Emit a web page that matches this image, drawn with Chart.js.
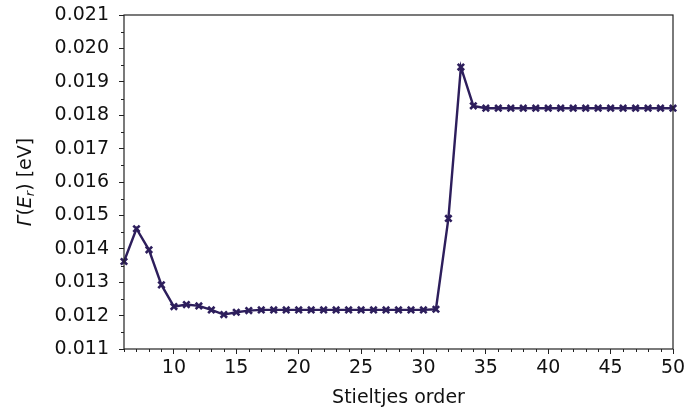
<!DOCTYPE html>
<html>
<head>
<meta charset="utf-8">
<script src="https://cdn.jsdelivr.net/npm/chart.js@4/dist/chart.umd.min.js"></script>
<style>
  body { margin: 0; background: #fff; }
  #wrap { width: 687px; height: 412px; }
</style>
</head>
<body>
<div id="wrap"><canvas id="myChart" width="687" height="412"></canvas></div>
<script>
const stieltjesOrder = [6, 7, 8, 9, 10, 11, 12, 13, 14, 15, 16, 17, 18, 19, 20, 21, 22, 23, 24, 25, 26, 27, 28,
  29, 30, 31, 32, 33, 34, 35, 36, 37, 38, 39, 40, 41, 42, 43, 44, 45, 46, 47, 48, 49, 50];
const gammaWidth = [0.01362, 0.01460, 0.01397, 0.01292, 0.01227, 0.01233, 0.01229, 0.01217, 0.01203, 0.01210,
  0.01215, 0.01217, 0.01217, 0.01217, 0.01217, 0.01217, 0.01217, 0.01217, 0.01217, 0.01217, 0.01217, 0.01217,
  0.01217, 0.01217, 0.01217, 0.01219, 0.01491, 0.01944, 0.01828, 0.01821, 0.01821, 0.01821, 0.01821, 0.01821,
  0.01821, 0.01821, 0.01821, 0.01821, 0.01821, 0.01821, 0.01821, 0.01821, 0.01821, 0.01821, 0.01821];
const xTicks = [10, 15, 20, 25, 30, 35, 40, 45, 50];
const yTicks = [0.011, 0.012, 0.013, 0.014, 0.015, 0.016, 0.017, 0.018, 0.019, 0.020, 0.021];

const FONT = "'DejaVu Sans', sans-serif";
const lineColor = '#2d1e5c';

// box around plot, minor ticks, y axis label with italics
const decor = {
  id: 'decor',
  afterDraw(chart) {
    const c = chart.ctx, a = chart.chartArea;
    const xs = chart.scales.x, ys = chart.scales.y;
    c.save();
    c.strokeStyle = '#222';
    c.lineWidth = 1.2;
    c.strokeRect(a.left, a.top, a.right - a.left, a.bottom - a.top);
    c.lineWidth = 1;
    c.beginPath();
    for (let v = 6; v <= 50; v++) {
      if (v % 5 === 0) continue;
      const px = Math.round(xs.getPixelForValue(v)) + 0.5;
      c.moveTo(px, a.bottom); c.lineTo(px, a.bottom + 3);
    }
    for (let i = 0; i < yTicks.length - 1; i++) {
      const py = Math.round(ys.getPixelForValue(yTicks[i] + 0.0005)) + 0.5;
      c.moveTo(a.left, py); c.lineTo(a.left - 3, py);
    }
    c.stroke();

    // y title
    c.translate(26, (a.top + a.bottom) / 2);
    c.rotate(-Math.PI / 2);
    c.fillStyle = '#111';
    c.textBaseline = 'middle';
    const parts = [
      ['Γ', 'italic 19px ' + FONT, 0],
      ['(', '19px ' + FONT, 0],
      ['E', 'italic 19px ' + FONT, 0],
      ['r', 'italic 13px ' + FONT, 5],
      [') [eV]', '19px ' + FONT, 0]
    ];
    let total = 0;
    parts.forEach(p => { c.font = p[1]; total += c.measureText(p[0]).width; });
    let x = -total / 2;
    parts.forEach(p => {
      c.font = p[1];
      c.fillText(p[0], x, p[2]);
      x += c.measureText(p[0]).width;
    });
    c.restore();
  }
};

const ctx = document.getElementById('myChart');

new Chart(ctx, {
  type: 'line',
  data: {
    datasets: [{
      label: 'Gamma',
      data: stieltjesOrder.map((x, i) => ({ x: x, y: gammaWidth[i] })),
      borderColor: lineColor,
      backgroundColor: lineColor,
      borderWidth: 2.4,
      pointStyle: 'crossRot',
      pointRadius: 4.5,
      pointBorderWidth: 2.6,
      pointBorderColor: lineColor,
      tension: 0,
      clip: false
    }]
  },
  options: {
    responsive: false,
    animation: false,
    layout: { padding: { left: 0, right: 14, top: 15, bottom: 0 } },
    plugins: { legend: { display: false }, tooltip: { enabled: false } },
    scales: {
      x: {
        type: 'linear',
        min: 6,
        max: 50,
        afterBuildTicks: s => { s.ticks = xTicks.map(v => ({ value: v })); },
        afterFit: s => { s.height = 63; s.paddingLeft = 0; s.paddingRight = 0; },
        grid: { drawOnChartArea: false, tickLength: 5, color: '#222', tickColor: '#222' },
        border: { display: false },
        ticks: { font: { family: FONT, size: 19 }, color: '#111', padding: 3, maxRotation: 0 },
        title: { display: true, text: 'Stieltjes order', font: { family: FONT, size: 19 }, color: '#111', padding: { top: 0, bottom: 3 } }
      },
      y: {
        min: 0.011,
        max: 0.021,
        afterBuildTicks: s => { s.ticks = yTicks.map(v => ({ value: v })); },
        afterFit: s => { s.width = 124; s.paddingTop = 0; s.paddingBottom = 0; },
        grid: { drawOnChartArea: false, tickLength: 5, color: '#222', tickColor: '#222' },
        border: { display: false },
        ticks: { font: { family: FONT, size: 19 }, color: '#111', padding: 10, callback: v => v.toFixed(3) }
      }
    }
  },
  plugins: [decor]
});
</script>
</body>
</html>
